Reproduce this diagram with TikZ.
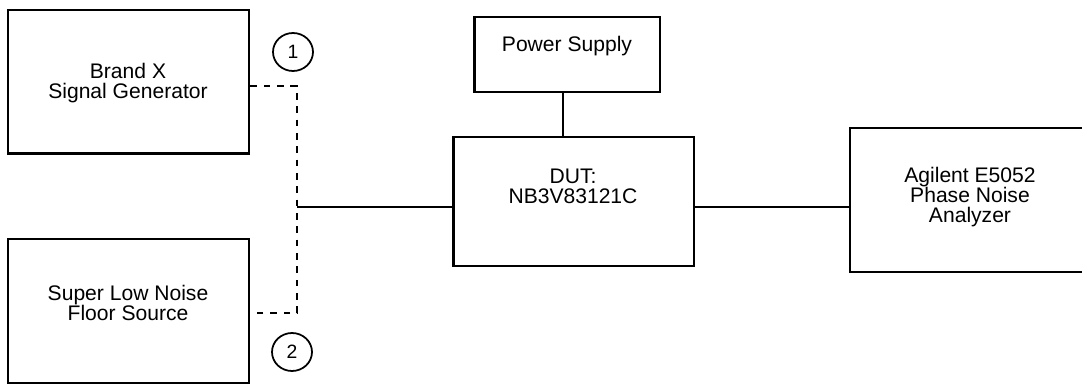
\documentclass[tikz,border=0pt]{standalone}
\usepackage{fontspec}
\setmainfont{Liberation Sans}
\usepackage{tikz}
\usetikzlibrary{shapes.geometric}
\tikzset{box/.style={draw,line width=1.3pt,inner sep=0pt},lbl/.style={align=center,inner sep=0pt,font=\fontsize{12}{11.5}\selectfont},wire/.style={draw,line width=1.3pt},feed/.style={draw,line width=1.3pt,dash pattern=on 3.8pt off 3.8pt},port/.style={ellipse,draw,line width=1pt,minimum width=.8cm,minimum height=.76cm,inner sep=0pt,font=\fontsize{11}{11}\selectfont}}
\begin{document}
\begin{tikzpicture}[x=.02cm,y=-.02cm]
\useasboundingbox (0,0) rectangle (1082,385);\clip (0,0) rectangle (1082,385);
\node[box,minimum width=4.82cm,minimum height=2.87cm] (sg) at (128.8,81.7) {};\node[box,minimum width=4.82cm,minimum height=2.87cm] (src) at (128.8,311) {};
\node[box,minimum width=3.71cm,minimum height=1.5cm] (ps) at (567.2,54.2) {};\node[box,minimum width=4.81cm,minimum height=2.58cm] (dut) at (573.7,201.2) {};
\node[box,minimum width=4.8cm,minimum height=2.88cm] (pna) at (970,200.3) {};
\node[lbl] (sgt) at (128,83) {Brand X\\Signal Generator};\node[lbl] (srct) at (128,303) {Super Low Noise\\Floor Source};
\node[lbl] (pst) at (567,46) {Power Supply};\node[lbl] (dutt) at (573,186) {DUT:\\NB3V83121C};\node[lbl] (pnat) at (970,197) {Agilent E5052\\Phase Noise\\Analyzer};
\node[port] (p1) at (293,52) {1};\node[port] (p2) at (292,352) {2};
\coordinate (j1) at (297,86);\coordinate (j2) at (297,313);\coordinate (jn) at (297,207);\coordinate (pw) at (563,0);
\draw[feed] (sg.east |- j1) -- (j1) -- (j2) -- (src.east |- j2);
\draw[wire] (jn) -- (dut.west |- jn);\draw[wire] (dut.east |- jn) -- (pna.west |- jn);\draw[wire] (ps.south -| pw) -- (dut.north -| pw);
\end{tikzpicture}
\end{document}
